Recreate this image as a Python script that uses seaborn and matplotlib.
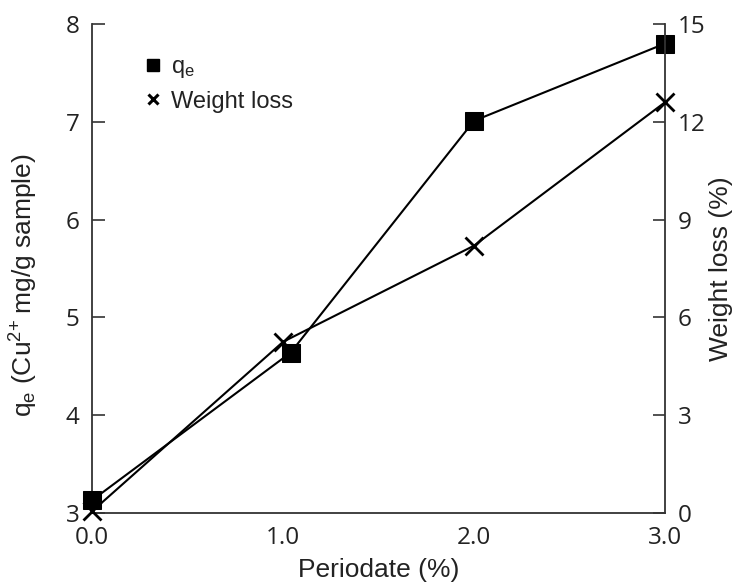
import matplotlib
matplotlib.use("Agg")
import matplotlib.pyplot as plt
import seaborn as sns
from matplotlib.lines import Line2D

# Data
periodate_q = [0.0, 1.04, 2.0, 3.0]
qe_values = [3.13, 4.64, 7.01, 7.80]
periodate_w = [0.0, 1.0, 2.0, 3.0]
weight_loss = [0.05, 5.25, 8.2, 12.6]

x_ticks = [0.0, 1.0, 2.0, 3.0]
x_ticklabels = ["0.0", "1.0", "2.0", "3.0"]
left_ticks = [3, 4, 5, 6, 7, 8]
right_ticks = [0, 3, 6, 9, 12, 15]

sns.set_theme(style="white")
plt.rcParams["font.family"] = ["Liberation Sans", "DejaVu Sans"]
plt.rcParams["mathtext.fontset"] = "custom"
plt.rcParams["mathtext.rm"] = "Liberation Sans"
plt.rcParams["mathtext.it"] = "Liberation Sans"

fig = plt.figure(figsize=(7.34, 5.87), dpi=100)
ax = fig.add_axes([92/734, 1-513/587, (665-92)/734, (513-24)/587])
ax2 = ax.twinx()

sns.lineplot(x=periodate_q, y=qe_values, ax=ax, color="black", linewidth=1.5,
             marker="s", markersize=13, markeredgecolor="black", markerfacecolor="black",
             clip_on=False, zorder=3)
sns.lineplot(x=periodate_w, y=weight_loss, ax=ax2, color="black", linewidth=1.5,
             marker="x", markersize=13, markeredgewidth=2, markeredgecolor="black",
             clip_on=False, zorder=3)

ax.set_xlim(0, 3.0)
ax.set_ylim(3, 8)
ax2.set_ylim(0, 15)

tick_font = {"family": "Open Sans", "size": 17.5, "color": "#222222"}
ax.set_xticks(x_ticks)
ax.set_xticklabels(x_ticklabels, fontdict=tick_font)
ax.set_yticks(left_ticks)
ax.set_yticklabels([str(t) for t in left_ticks], fontdict=tick_font)
ax2.set_yticks(right_ticks)
ax2.set_yticklabels([str(t) for t in right_ticks], fontdict=tick_font)

for a in (ax, ax2):
    a.tick_params(direction="in", length=9, width=1.2, color="#333333", pad=9)
    for s in a.spines.values():
        s.set_color("#333333")
        s.set_linewidth(1.3)
    a.spines["top"].set_visible(False)
ax.tick_params(axis="x", pad=9)
ax2.spines["left"].set_visible(False)
ax2.spines["bottom"].set_visible(False)
ax.spines["right"].set_visible(False)
ax2.spines["right"].set_visible(True)

ax.set_xlabel("Periodate (%)", fontsize=19, color="#222222", labelpad=6)
ax.set_ylabel("q$_\\mathrm{e}$ (Cu$^{2\\!+\\!\\!}$ mg/g sample)", fontsize=19, color="#222222")
ax2.set_ylabel("Weight loss (%)", fontsize=19, color="#222222")
ax.yaxis.set_label_coords((40 - 92) / 573, (513 - 285) / 489)
ax2.yaxis.set_label_coords((709 - 92) / 573, 0.5)
ax.grid(False)
ax2.grid(False)

handles = [
    Line2D([], [], linestyle="none", marker="s", markersize=8, color="black"),
    Line2D([], [], linestyle="none", marker="x", markersize=7, markeredgewidth=2.2, color="black"),
]
leg = ax.legend(handles, ["q$_\\mathrm{e}$", "Weight loss"], loc="upper left",
                bbox_to_anchor=(0.059, 0.978), frameon=False, fontsize=17,
                handlelength=0.5, handletextpad=0.5, labelspacing=0.45)
for t in leg.get_texts():
    t.set_color("#222222")

fig.savefig("out.png", dpi=100)
